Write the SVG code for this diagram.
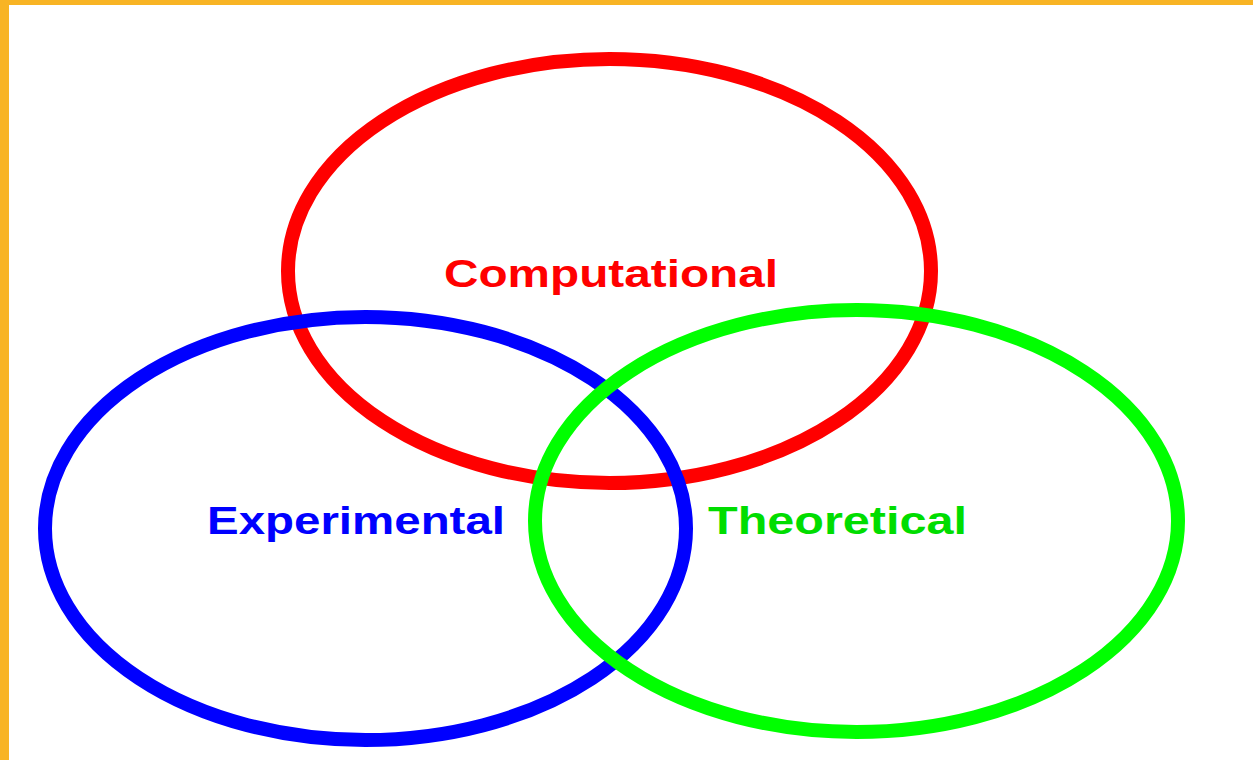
<svg xmlns="http://www.w3.org/2000/svg" width="1253" height="760" viewBox="0 0 1253 760">
<style>
.ring{fill:none;stroke-width:14}
.lbl{font-family:"Liberation Sans",Arial,sans-serif;font-weight:bold;font-size:39px}
</style>
<rect x="0" y="0" width="1253" height="760" fill="#ffffff"/>
<rect x="0" y="0" width="1253" height="5" fill="#F8B424"/>
<rect x="0" y="0" width="9" height="760" fill="#F8B424"/>
<g id="computational">
<ellipse class="ring" cx="609.5" cy="271" rx="321.5" ry="212" stroke="#ff0000"/>
<text class="lbl" x="444" y="287" fill="#ff0000" textLength="334" lengthAdjust="spacingAndGlyphs">Computational</text>
</g>
<g id="experimental">
<ellipse class="ring" cx="365.5" cy="528.5" rx="320.5" ry="211.5" stroke="#0000ff"/>
<text class="lbl" x="207" y="534" fill="#0000ff" textLength="298" lengthAdjust="spacingAndGlyphs">Experimental</text>
</g>
<g id="theoretical">
<ellipse class="ring" cx="856.5" cy="521" rx="321.5" ry="211" stroke="#00ff00"/>
<text class="lbl" x="708" y="534" fill="#00dd00" textLength="259" lengthAdjust="spacingAndGlyphs">Theoretical</text>
</g>
<g id="connectors"></g>
</svg>
